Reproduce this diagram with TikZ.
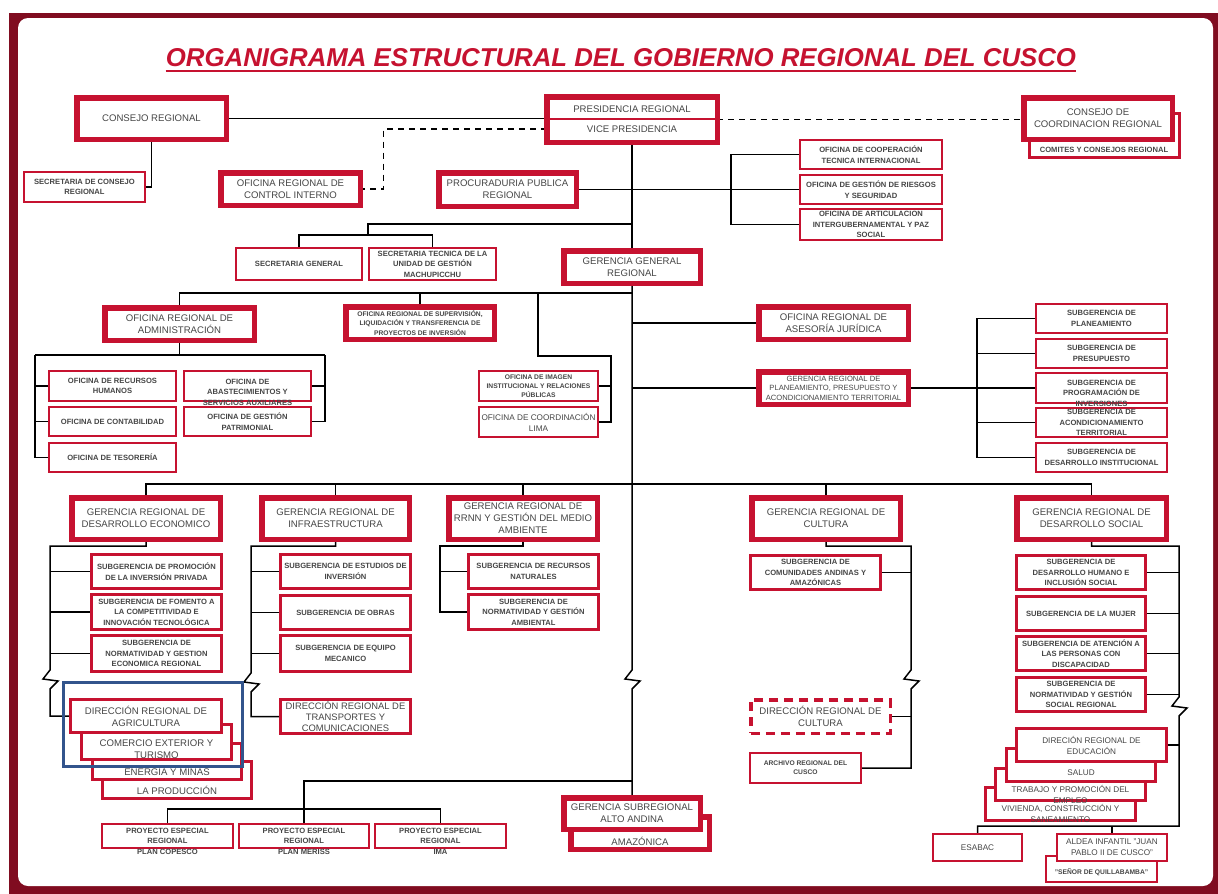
\documentclass[tikz,border=0pt]{standalone}
\usepackage{fontspec}
\setmainfont{Liberation Sans}
\usetikzlibrary{calc}
\definecolor{rd}{RGB}{198,18,48}
\definecolor{frm}{RGB}{128,12,32}
\definecolor{tx}{RGB}{70,70,70}
\definecolor{bl}{RGB}{50,84,140}
\pgfdeclarelayer{frame}
\pgfdeclarelayer{bg}
\pgfsetlayers{frame,bg,main}
\newcommand\BX[7]{\node[#1, minimum width={(#5-#3)*1pt-\pgflinewidth}, minimum height={(#6-#4)*1pt-\pgflinewidth}] (#2) at ({(#3+#5)/2},{(#4+#6)/2}) {#7};}
\newcommand\TX[5]{\node[#1, txt] (#2) at (#3,#4) {#5};}
\tikzset{
 obox/.style={draw=rd, fill=white, inner sep=0pt, outer sep=0pt, align=center, text=tx},
 bxthick/.style={obox, line width=5.5pt},
 bxmid/.style={obox, line width=3pt},
 bxsub/.style={obox, line width=2.6pt},
 bxthin/.style={obox, line width=2.2pt},
 bxdash/.style={obox, line width=3.5pt, dash pattern=on 9pt off 6pt},
 txt/.style={inner sep=0pt, align=center, text=tx},
 fbig/.style={font=\fontsize{9.6}{12}\selectfont},
 fbig3/.style={font=\fontsize{9.4}{11.2}\selectfont},
 fpl/.style={font=\fontsize{7.6}{9.4}\selectfont},
 fmed/.style={font=\fontsize{8.2}{11}\selectfont},
 fsml/.style={font=\bfseries\fontsize{7.6}{10.5}\selectfont},
 fxs/.style={font=\bfseries\fontsize{6.7}{9.2}\selectfont},
 conn/.style={draw=black, line width=1.5pt},
 dconn/.style={conn, dash pattern=on 6pt off 5pt},
}
\begin{document}
\begin{tikzpicture}[x=1pt,y=-1pt]
\useasboundingbox (0,0) rectangle (1218,894);
\begin{pgfonlayer}{frame}
\fill[frm] (9,13) rectangle (1218,894);
\fill[white, rounded corners=10pt] (18,18) rectangle (1213,886);
\end{pgfonlayer}
% title
\node[font=\bfseries\itshape\fontsize{25.8}{30}\selectfont, text=rd, inner sep=0pt] (ttl) at (621,57.5) {ORGANIGRAMA ESTRUCTURAL DEL GOBIERNO REGIONAL DEL CUSCO};
\draw[rd, line width=1.8pt] ($(ttl.base west)+(0,4.5)$) -- ($(ttl.base east)+(0,4.5)$);
% top level
\BX{bxthick,fbig}{consejo}{74}{95}{229}{142}{CONSEJO REGIONAL}
\BX{bxthin,fsml}{secCons}{23}{171}{146}{203}{SECRETARIA DE CONSEJO\\REGIONAL}
\BX{bxthick}{pres}{544}{94}{720}{145}{}
\draw[rd,line width=2pt] (548,119) -- (716,119);
\TX{fbig}{presT}{632}{109}{PRESIDENCIA REGIONAL}
\TX{fbig}{viceT}{632}{129}{VICE PRESIDENCIA}
\BX{bxthick,fbig}{ctrl}{218}{170}{363}{208}{OFICINA REGIONAL DE\\CONTROL INTERNO}
\BX{bxthick,fbig}{procu}{436}{170}{579}{209}{PROCURADURIA PUBLICA\\REGIONAL}
\BX{bxmid}{comit}{1028}{112}{1181}{159}{}
\TX{fsml}{comitT}{1104}{150}{COMITES Y CONSEJOS REGIONAL}
\BX{bxthick,fbig}{ccr}{1021}{95}{1175}{142}{CONSEJO DE\\COORDINACION REGIONAL}
\BX{bxthin,fsml}{coop}{799}{139}{943}{170}{OFICINA DE COOPERACIÓN\\TECNICA INTERNACIONAL}
\BX{bxthin,fsml}{riesg}{799}{174}{943}{205}{OFICINA DE GESTIÓN DE RIESGOS\\Y SEGURIDAD}
\BX{bxthin,fsml}{artic}{799}{208}{943}{241}{OFICINA DE ARTICULACION\\INTERGUBERNAMENTAL Y PAZ\\SOCIAL}
\BX{bxthin,fsml}{secgen}{235}{247}{363}{281}{SECRETARIA GENERAL}
\BX{bxthin,fsml}{sectec}{368}{247}{497}{281}{SECRETARIA TECNICA DE LA\\UNIDAD DE GESTIÓN\\MACHUPICCHU}
\BX{bxthick,fbig}{ggr}{561}{248}{703}{286}{GERENCIA GENERAL\\REGIONAL}
% second level
\BX{bxthick,fbig}{admin}{102}{305}{257}{343}{OFICINA REGIONAL DE\\ADMINISTRACIÓN}
\BX{bxthick,fxs}{superv}{343}{304}{497}{342}{OFICINA REGIONAL DE SUPERVISIÓN,\\LIQUIDACIÓN Y TRANSFERENCIA DE\\PROYECTOS DE INVERSIÓN}
\BX{bxthin,fsml}{rrhh}{48}{370}{177}{402}{OFICINA DE RECURSOS\\HUMANOS}
\BX{bxthin,fsml}{conta}{48}{406}{177}{437}{OFICINA DE CONTABILIDAD}
\BX{bxthin,fsml}{teso}{48}{442}{177}{473}{OFICINA DE TESORERÍA}
\BX{bxthin}{abas}{183}{370}{312}{402}{}
\TX{fsml}{abasT}{247.5}{392}{OFICINA DE\\ABASTECIMIENTOS Y\\SERVICIOS AUXILIARES}
\BX{bxthin,fsml}{patri}{183}{406}{312}{437}{OFICINA DE GESTIÓN\\PATRIMONIAL}
\BX{bxthin,fxs}{imagen}{478}{370}{599}{402}{OFICINA DE IMAGEN\\INSTITUCIONAL Y RELACIONES\\PÚBLICAS}
\BX{bxthin,fmed}{lima}{478}{406}{599}{438}{OFICINA DE COORDINACIÓN\\LIMA}
\BX{bxthick,fbig}{aseso}{756}{304}{911}{342}{OFICINA REGIONAL DE\\ASESORÍA JURÍDICA}
\BX{bxthick,fpl}{planea}{756}{369}{911}{407}{GERENCIA REGIONAL DE\\PLANEAMIENTO, PRESUPUESTO Y\\ACONDICIONAMIENTO TERRITORIAL}
\BX{bxthin,fsml}{sgplan}{1035}{303}{1168}{334}{SUBGERENCIA DE\\PLANEAMIENTO}
\BX{bxthin,fsml}{sgpres}{1035}{338}{1168}{369}{SUBGERENCIA DE\\PRESUPUESTO}
\BX{bxthin}{sgprog}{1035}{372}{1168}{404}{}
\TX{fsml}{sgprogT}{1101.5}{393}{SUBGERENCIA DE\\PROGRAMACIÓN DE\\INVERSIONES}
\BX{bxthin,fsml}{sgacon}{1035}{407}{1168}{438}{SUBGERENCIA DE\\ACONDICIONAMIENTO\\TERRITORIAL}
\BX{bxthin,fsml}{sgdesi}{1035}{442}{1168}{473}{SUBGERENCIA DE\\DESARROLLO INSTITUCIONAL}
% gerencias
\BX{bxthick,fbig}{gde}{69}{495}{223}{542}{GERENCIA REGIONAL DE\\DESARROLLO ECONOMICO}
\BX{bxthick,fbig}{ginf}{259}{495}{412}{542}{GERENCIA REGIONAL DE\\INFRAESTRUCTURA}
\BX{bxthick,fbig}{grrnn}{446}{495}{600}{542}{GERENCIA REGIONAL DE\\RRNN Y GESTIÓN DEL MEDIO\\AMBIENTE}
\BX{bxthick,fbig}{gcul}{749}{495}{903}{542}{GERENCIA REGIONAL DE\\CULTURA}
\BX{bxthick,fbig}{gds}{1014}{495}{1169}{542}{GERENCIA REGIONAL DE\\DESARROLLO SOCIAL}
\BX{bxsub,fsml}{sde1}{90}{553}{223}{590}{SUBGERENCIA DE PROMOCIÓN\\DE LA INVERSIÓN PRIVADA}
\BX{bxsub,fsml}{sde2}{90}{593}{223}{631}{SUBGERENCIA DE FOMENTO A\\LA COMPETITIVIDAD E\\INNOVACIÓN TECNOLÓGICA}
\BX{bxsub,fsml}{sde3}{90}{634}{223}{673}{SUBGERENCIA DE\\NORMATIVIDAD Y GESTION\\ECONOMICA REGIONAL}
\BX{bxsub,fsml}{sin1}{279}{553}{412}{590}{SUBGERENCIA DE ESTUDIOS DE\\INVERSIÓN}
\BX{bxsub,fsml}{sin2}{279}{594}{412}{631}{SUBGERENCIA DE OBRAS}
\BX{bxsub,fsml}{sin3}{279}{634}{412}{673}{SUBGERENCIA DE EQUIPO\\MECANICO}
\BX{bxsub,fsml}{srn1}{467}{553}{600}{590}{SUBGERENCIA DE RECURSOS\\NATURALES}
\BX{bxsub,fsml}{srn2}{467}{593}{600}{631}{SUBGERENCIA DE\\NORMATIVIDAD Y GESTIÓN\\AMBIENTAL}
\BX{bxsub,fsml}{scu1}{749}{554}{882}{591}{SUBGERENCIA DE\\COMUNIDADES ANDINAS Y\\AMAZÓNICAS}
\BX{bxsub,fsml}{sds1}{1015}{554}{1147}{591}{SUBGERENCIA DE\\DESARROLLO HUMANO E\\INCLUSIÓN SOCIAL}
\BX{bxsub,fsml}{sds2}{1015}{595}{1147}{632}{SUBGERENCIA DE LA MUJER}
\BX{bxsub,fsml}{sds3}{1015}{635}{1147}{672}{SUBGERENCIA DE ATENCIÓN A\\LAS PERSONAS CON\\DISCAPACIDAD}
\BX{bxsub,fsml}{sds4}{1015}{676}{1147}{713}{SUBGERENCIA DE\\NORMATIVIDAD Y GESTIÓN\\SOCIAL REGIONAL}
% direcciones (agricultura stack)
\BX{bxmid}{prod}{101}{760}{253}{800}{}
\TX{fbig}{prodT}{177}{790}{LA PRODUCCIÓN}
\BX{bxmid}{ener}{91}{742}{243}{781}{}
\TX{fbig}{enerT}{167}{771}{ENERGÍA Y MINAS}
\BX{bxmid}{comer}{80}{723}{233}{761}{}
\TX{fbig}{comerT}{156.5}{749}{COMERCIO EXTERIOR Y\\TURISMO}
\BX{bxmid,fbig}{agri}{69}{698}{223}{734}{DIRECCIÓN REGIONAL DE\\AGRICULTURA}
\draw[bl, line width=3pt] (63.5,682.5) rectangle (242.5,766.5);
\BX{bxmid,fbig3}{transp}{279}{698}{412}{735}{DIRECCIÓN REGIONAL DE\\TRANSPORTES Y\\COMUNICACIONES}
\BX{bxdash,fbig}{dcul}{749}{698}{892}{735}{DIRECCIÓN REGIONAL DE\\CULTURA}
\BX{bxthin,fxs}{arch}{749}{752}{862}{784}{ARCHIVO REGIONAL DEL\\CUSCO}
% social stack
\BX{bxmid}{vivi}{984}{786}{1137}{822}{}
\TX{fmed}{viviT}{1060.5}{813}{VIVIENDA, CONSTRUCCIÓN Y\\SANEAMIENTO}
\BX{bxmid}{trab}{994}{767}{1147}{802}{}
\TX{fmed}{trabT}{1070.5}{794}{TRABAJO Y PROMOCIÓN DEL\\EMPLEO}
\BX{bxmid}{salud}{1005}{747}{1157}{783}{}
\TX{fmed}{saludT}{1081}{773}{SALUD}
\BX{bxmid,fmed}{educ}{1015}{727}{1168}{763}{DIRECIÓN REGIONAL DE\\EDUCACIÓN}
\BX{bxthin,fmed}{esabac}{932}{833}{1023}{862}{ESABAC}
\BX{bxthin}{senor}{1045}{855}{1158}{883}{}
\TX{fxs}{senorT}{1101.5}{872}{"SEÑOR DE QUILLABAMBA"}
\BX{bxthin,fmed}{aldea}{1056}{833}{1168}{862}{ALDEA INFANTIL "JUAN\\PABLO II DE CUSCO"}
% gerencia subregional
\BX{bxthick}{amaz}{568}{814}{712}{852}{}
\TX{fbig}{amazT}{640}{841}{AMAZÓNICA}
\BX{bxthick,fbig}{gsr}{561}{795}{703}{832}{GERENCIA SUBREGIONAL\\ALTO ANDINA}
% proyectos
\BX{bxthin}{pcop}{101}{823}{234}{849}{}
\TX{fsml}{pcopT}{167.5}{841}{PROYECTO ESPECIAL\\REGIONAL\\PLAN COPESCO}
\BX{bxthin}{pmer}{238}{823}{370}{849}{}
\TX{fsml}{pmerT}{304}{841}{PROYECTO ESPECIAL\\REGIONAL\\PLAN MERISS}
\BX{bxthin}{pima}{374}{823}{507}{849}{}
\TX{fsml}{pimaT}{440.5}{841}{PROYECTO ESPECIAL\\REGIONAL\\IMA}
% connectors
\begin{pgfonlayer}{bg}
\coordinate (rb) at (731,0);
\coordinate (tA) at (632,224);
\coordinate (sj) at (368,235);
\coordinate (tB) at (632,293);
\coordinate (im1) at (538,293);
\coordinate (im2) at (611,356);
\coordinate (adL) at (35,355);
\coordinate (adR) at (325,355);
\coordinate (pb) at (977,0);
\coordinate (tC) at (632,484);
\coordinate (deL) at (50,546);
\coordinate (inL) at (251,546);
\coordinate (rnL) at (440,546);
\coordinate (cuR) at (911,546);
\coordinate (dsR) at (1179,546);
\coordinate (dsB) at (1179,826);
\coordinate (tD) at (632,781);
\coordinate (pj) at (304,809);
\draw[conn] (consejo.east) -- (consejo.east -| pres.west);
\draw[conn] (consejo.south) |- (secCons.east);
\draw[dconn] (pres.west |- viceT) -| ($(ctrl.east)+(23,0)$) -- (ctrl.east);
\draw[dconn] (pres.east) -- (pres.east -| ccr.west);
\draw[conn] (pres.south) -- (ggr.north);
\draw[conn] (procu.east) -- (procu.east -| riesg.west);
\draw[conn] (coop.west) -- (coop.west -| rb) -- (artic.west -| rb) -- (artic.west);
\draw[conn] (tA) -| (sj);
\draw[conn] (secgen.north) |- (sj);
\draw[conn] (sectec.north) |- (sj);
\draw[conn] (ggr.south) -- (632,670) -- ++(-7,9) -- ++(15,2) -- ++(-8,8) -- (gsr.north);
\draw[conn] (tB) -| (admin.north);
\draw[conn] (superv.north) -- (superv.north |- tB);
\draw[conn] (im1) |- (im2) |- (lima.east);
\draw[conn] (imagen.east) -- (imagen.east -| im2);
\draw[conn] (admin.south) -- (admin.south |- adL);
\draw[conn] (adL) -- (adR);
\draw[conn] (adL) |- (teso.west);
\draw[conn] (rrhh.west) -- (rrhh.west -| adL);
\draw[conn] (conta.west) -- (conta.west -| adL);
\draw[conn] (adR) |- (patri.east);
\draw[conn] (abas.east) -- (abas.east -| adR);
\draw[conn] (aseso.west -| tB) -- (aseso.west);
\draw[conn] (planea.west -| tB) -- (planea.west);
\draw[conn] (planea.east) -- (planea.east -| sgprog.west);
\draw[conn] (sgplan.west) -- (sgplan.west -| pb) -- (sgdesi.west -| pb) -- (sgdesi.west);
\draw[conn] (sgpres.west) -- (sgpres.west -| pb);
\draw[conn] (sgacon.west) -- (sgacon.west -| pb);
\draw[conn] (gde.north) |- (tC) -| (gds.north);
\draw[conn] (ginf.north) -- (ginf.north |- tC);
\draw[conn] (grrnn.north) -- (grrnn.north |- tC);
\draw[conn] (gcul.north) -- (gcul.north |- tC);
\draw[conn] (gde.south) |- (deL) -- (50,670) -- ++(-7,9) -- ++(15,2) -- ++(-8,8) |- (agri.west);
\draw[conn] (sde1.west) -- (sde1.west -| deL);
\draw[conn] (sde2.west) -- (sde2.west -| deL);
\draw[conn] (sde3.west) -- (sde3.west -| deL);
\draw[conn] (ginf.south) |- (inL) -- (251,673) -- ++(-7,9) -- ++(15,2) -- ++(-8,8) |- (transp.west);
\draw[conn] (sin1.west) -- (sin1.west -| inL);
\draw[conn] (sin2.west) -- (sin2.west -| inL);
\draw[conn] (sin3.west) -- (sin3.west -| inL);
\draw[conn] (grrnn.south) |- (rnL) |- (srn2.west);
\draw[conn] (srn1.west) -- (srn1.west -| rnL);
\draw[conn] (gcul.south) |- (cuR) -- (911,670) -- ++(-7,9) -- ++(15,2) -- ++(-8,8) |- (arch.east);
\draw[conn] (scu1.east) -- (scu1.east -| cuR);
\draw[conn] (dcul.east) -- (dcul.east -| cuR);
\draw[conn] (gds.south) |- (dsR) -- (1179,697) -- ++(-7,9) -- ++(15,2) -- ++(-8,8) -- (dsB) -| (esabac.north);
\draw[conn] (aldea.north) -- (aldea.north |- dsB);
\draw[conn] (sds1.east) -- (sds1.east -| dsR);
\draw[conn] (sds2.east) -- (sds2.east -| dsR);
\draw[conn] (sds3.east) -- (sds3.east -| dsR);
\draw[conn] (sds4.east) -- (sds4.east -| dsR);
\draw[conn] (educ.east) -- (educ.east -| dsR);
\draw[conn] (tD) -| (pmer.north);
\draw[conn] (pcop.north) |- (pj) -| (pima.north);
\end{pgfonlayer}
\end{tikzpicture}
\end{document}
